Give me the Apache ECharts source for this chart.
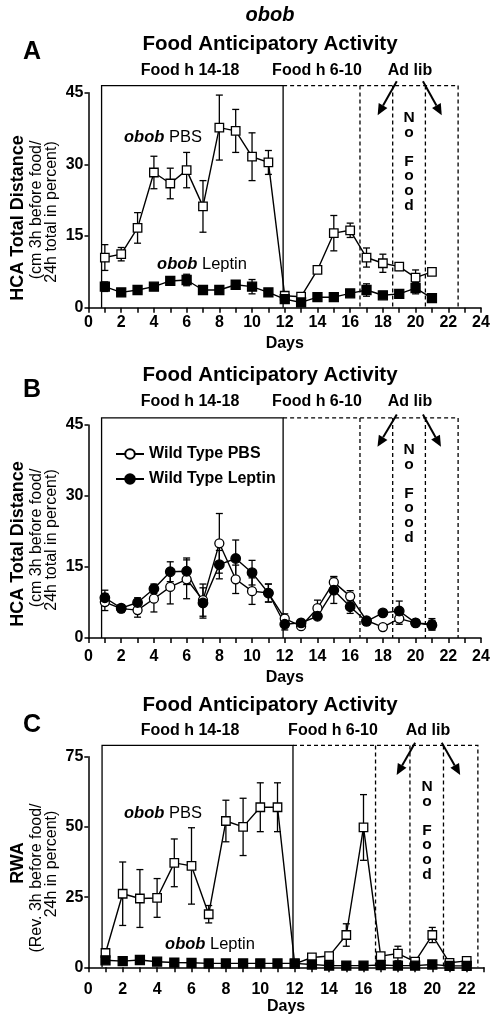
<!DOCTYPE html>
<html><head><meta charset="utf-8">
<script src="https://cdn.jsdelivr.net/npm/echarts@6/dist/echarts.min.js"></script>
<style>html,body{margin:0;padding:0;background:#fff}#c{width:498px;height:1020px}</style>
</head><body><div id="c"></div><script>
const FONT = "'Liberation Sans', Arial, Helvetica, sans-serif";

// ---------- Panel A: obob, HCA total distance ----------
const daysA = [1,2,3,4,5,6,7,8,9,10,11,12,13,14,15,16,17,18,19,20,21];
const obobPbsA    = [10.5,11.2,16.7,28.3,26.0,28.8,21.2,37.7,37.0,31.6,30.4,2.5,2.3,7.9,15.6,16.2,10.5,9.3,8.6,6.3,7.5];
const obobPbsAErr = [2.7,1.4,3.2,3.4,3.2,3.7,5.4,6.8,4.5,5.0,2.5,0.5,0.5,0.6,3.7,1.5,2.0,1.9,0.8,1.6,0.5];
const obobLepA    = [4.4,3.2,3.7,4.4,5.6,5.8,3.7,3.7,4.8,4.4,3.2,1.8,1.1,2.2,2.2,3.0,3.7,2.6,2.9,4.1,2.0];
const obobLepAErr = [1.0,0.6,0.5,0.5,0.8,1.2,0.5,0.5,0.5,1.5,0.5,0.8,0.4,0.4,0.4,0.6,1.3,0.5,0.5,1.2,0.4];

// ---------- Panel B: wild type, HCA total distance ----------
const daysB = [1,2,3,4,5,6,7,8,9,10,11,12,13,14,15,16,17,18,19,20,21];
const wtPbsB    = [7.6,6.2,5.9,8.3,10.8,12.4,8.0,20.0,12.4,9.9,9.5,4.1,2.5,6.3,11.8,8.8,3.7,2.3,4.1,3.2,2.9];
const wtPbsBErr = [1.8,0.8,1.5,2.8,3.6,4.1,3.4,6.3,3.0,2.8,1.9,1.0,0.5,1.7,1.2,1.2,0.6,0.5,1.2,0.6,1.2];
const wtLepB    = [8.5,6.3,7.5,10.4,14.0,14.1,7.4,15.5,16.8,13.8,9.5,2.9,3.2,4.6,10.1,6.6,3.5,5.3,5.7,3.2,2.7];
const wtLepBErr = [1.6,0.6,1.0,1.0,2.1,2.8,3.2,3.0,3.9,2.6,1.9,1.2,0.5,0.5,2.8,1.4,0.8,0.5,2.1,0.6,1.0];

// ---------- Panel C: obob, RWA ----------
const daysC = [1,2,3,4,5,6,7,8,9,10,11,12,13,14,15,16,17,18,19,20,21,22];
const obobPbsC    = [5.1,26.2,24.5,24.7,37.2,36.1,18.9,52.1,50.0,57.0,57.0,1.2,3.5,4.0,11.5,49.8,4.0,4.9,2.0,11.5,1.6,2.3];
const obobPbsCErr = [1.0,11.3,10.3,6.9,8.5,13.6,3.1,7.4,10.2,8.7,8.7,0.5,1.0,1.0,4.0,11.7,1.0,2.6,0.5,2.7,0.5,0.5];
const obobLepC    = [2.5,2.2,2.6,2.0,1.7,1.6,1.4,1.4,1.4,1.4,1.4,1.4,1.0,0.6,0.6,0.6,0.8,0.6,0.6,1.0,0.5,0.5];
const obobLepCErr = [0.4,0.3,0.3,0.3,0.3,0.3,0.3,0.3,0.3,0.3,0.3,0.3,0.3,0.3,0.3,0.3,0.3,0.3,0.3,0.3,0.3,0.3];

// ---------- ticks ----------
const xTickLabelsAB = [0,2,4,6,8,10,12,14,16,18,20,22,24];
const xTickLabelsC  = [0,2,4,6,8,10,12,14,16,18,20,22];
const yTicksAB = [0,15,30,45];
const yTicksC  = [0,25,50,75];

// ---------- feeding phases (days) ----------
const phaseEdgesAB = [0.8, 11.9, 16.6, 18.6, 20.6, 22.6];
const phaseTopAB = 46.5;
const phaseEdgesC = [0.8, 11.9, 16.7, 18.7, 20.65, 22.65];
const phaseTopC = 79;
const adLibArrowsA = [[18.85,47.4,17.68,40.3],[20.45,47.4,21.6,40.3]];
const adLibArrowsB = [[18.85,47.2,17.67,40.4],[20.45,47.2,21.55,40.4]];
const adLibArrowsC = [[19.0,80.0,17.93,68.5],[20.55,80.0,21.62,68.5]];

const chart = echarts.init(document.getElementById('c'), null, {renderer:'canvas'});

const grids = [
  {left:88.5, top:92.7, width:392.5, height:215},
  {left:88.5, top:425, width:392.5, height:213},
  {left:88.3, top:756.7, width:395.6, height:210.6}
];

function xAxis(gi, max, labels, margin, nameGap){
  return {type:'value', gridIndex:gi, min:0, max:max, interval:1,
    axisLine:{show:true, onZero:false, lineStyle:{color:'#000', width:1.5}},
    axisTick:{show:true, length:5, lineStyle:{color:'#000', width:1.5}},
    axisLabel:{margin:margin, color:'#000', fontFamily:FONT, fontSize:16, fontWeight:'bold',
      showMinLabel:true, showMaxLabel:true, hideOverlap:false,
      formatter:v=>labels.includes(v)?String(v):''},
    splitLine:{show:false},
    name:'Days', nameLocation:'middle', nameGap:nameGap,
    nameTextStyle:{color:'#000', fontFamily:FONT, fontSize:16, fontWeight:'bold'}};
}
function yAxis(gi, ticks){
  return {type:'value', gridIndex:gi, min:ticks[0], max:ticks[ticks.length-1], interval:ticks[1]-ticks[0],
    axisLine:{show:true, onZero:false, lineStyle:{color:'#000', width:1.5}},
    axisTick:{show:true, length:4, lineStyle:{color:'#000', width:1.5}},
    axisLabel:{margin:5, color:'#000', fontFamily:FONT, fontSize:16, fontWeight:'bold'},
    splitLine:{show:false}};
}

function lineSeries(name, gi, days, vals, symbol, filled, size){
  return {type:'line', name:name, xAxisIndex:gi, yAxisIndex:gi,
    data:days.map((d,i)=>[d, vals[i]]),
    symbol:symbol, symbolSize:size, showAllSymbol:true,
    lineStyle:{color:'#000', width:1.4},
    itemStyle:{color: filled ? '#000' : '#fff', borderColor:'#000', borderWidth:1.3},
    emphasis:{disabled:true}, animation:false, clip:false};
}
function errSeries(gi, days, vals, errs){
  return {type:'custom', xAxisIndex:gi, yAxisIndex:gi, silent:true, animation:false, clip:false,
    data:days.map((d,i)=>[d, vals[i]-errs[i], vals[i]+errs[i]]),
    encode:{x:0, y:[1,2]},
    renderItem:function(params, api){
      const x = api.value(0);
      const lo = api.coord([x, api.value(1)]);
      const hi = api.coord([x, api.value(2)]);
      const w = 3.5;
      const st = {stroke:'#000', lineWidth:1.3};
      return {type:'group', children:[
        {type:'line', shape:{x1:lo[0], y1:lo[1], x2:hi[0], y2:hi[1]}, style:st},
        {type:'line', shape:{x1:hi[0]-w, y1:hi[1], x2:hi[0]+w, y2:hi[1]}, style:st},
        {type:'line', shape:{x1:lo[0]-w, y1:lo[1], x2:lo[0]+w, y2:lo[1]}, style:st}
      ]};
    }};
}
function phaseSeries(gi, edges, top, arrows){
  return {type:'custom', xAxisIndex:gi, yAxisIndex:gi, silent:true, animation:false, clip:false,
    data:[[0,0]], encode:{x:0, y:1}, z:1,
    renderItem:function(params, api){
      const P = (x,y)=>api.coord([x,y]);
      const solid = {stroke:'#000', lineWidth:1.3, fill:null};
      const dash = {stroke:'#000', lineWidth:1.3, lineDash:[4,3], fill:null};
      const ch = [];
      const a=P(edges[0],0), b=P(edges[0],top), c=P(edges[1],top), d=P(edges[1],0);
      ch.push({type:'polyline', shape:{points:[a,b,c,d]}, style:solid});
      const f=P(edges[5],top), g=P(edges[5],0);
      ch.push({type:'polyline', shape:{points:[c,f,g]}, style:dash});
      for (let k=2;k<=4;k++){
        const p1=P(edges[k],top), p2=P(edges[k],0);
        ch.push({type:'line', shape:{x1:p1[0],y1:p1[1],x2:p2[0],y2:p2[1]}, style:dash});
      }
      arrows.forEach(ar=>{
        const s=P(ar[0],ar[1]), t=P(ar[2],ar[3]);
        const dx=t[0]-s[0], dy=t[1]-s[1], L=Math.hypot(dx,dy);
        const ux=dx/L, uy=dy/L, hl=11, hw=5;
        const bx=t[0]-ux*hl, by=t[1]-uy*hl;
        ch.push({type:'line', shape:{x1:s[0],y1:s[1],x2:bx,y2:by}, style:{stroke:'#000', lineWidth:2}});
        ch.push({type:'polygon', shape:{points:[[t[0],t[1]],[bx-uy*hw,by+ux*hw],[bx+uy*hw,by-ux*hw]]}, style:{fill:'#000'}});
      });
      return {type:'group', children:ch};
    }};
}

function txt(x, y, text, font, extra){
  return Object.assign({type:'text', x:x, y:y, silent:true,
    style:{text:text, font:font, fill:'#000', align:'center', verticalAlign:'middle'}}, extra||{});
}
const F = (s, w, st) => (st||'') + ' ' + (w||'normal') + ' ' + s + 'px ' + FONT;
const obobRich = (label, x, y) => ({type:'text', x:x, y:y, silent:true,
  style:{text:'{i|obob} ' + label, font:F(16.5), fill:'#000', align:'center', verticalAlign:'middle',
    rich:{i:{font:F(16.5,'bold','italic'), fill:'#000'}}}});
const vert = (x, y, text, font) => txt(x, y, text, font, {rotation:Math.PI/2});
const noFood = (x, y) => ({type:'text', x:x, y:y, silent:true,
  style:{text:'N\no\n\nF\no\no\nd', font:F(15.5,'bold'), fill:'#000', align:'center', verticalAlign:'top', lineHeight:14.6}});

const graphics = [
  txt(270, 15, 'obob', F(20,'bold','italic')),
  // A
  txt(32, 52, 'A', F(25,'bold')),
  txt(270, 44, 'Food Anticipatory Activity', F(20.5,'bold')),
  txt(190, 71, 'Food h 14-18', F(16,'bold')),
  txt(317, 71, 'Food h 6-10', F(16,'bold')),
  txt(410, 71, 'Ad lib', F(16,'bold')),
  noFood(409, 110.5),
  obobRich('PBS', 163, 137),
  obobRich('Leptin', 202, 264),
  vert(18, 218, 'HCA Total Distance', F(18,'bold')),
  vert(37, 210, '(cm 3h before food/', F(16)),
  vert(52, 212, '24h total in percent)', F(16)),
  // B
  txt(32, 390, 'B', F(25,'bold')),
  txt(270, 375, 'Food Anticipatory Activity', F(20.5,'bold')),
  txt(190, 402, 'Food h 14-18', F(16,'bold')),
  txt(317, 402, 'Food h 6-10', F(16,'bold')),
  txt(410, 402, 'Ad lib', F(16,'bold')),
  noFood(409, 442.5),
  vert(18, 544, 'HCA Total Distance', F(18,'bold')),
  vert(37, 538, '(cm 3h before food/', F(16)),
  vert(52, 540, '24h total in percent)', F(16)),
  // C
  txt(32, 725, 'C', F(25,'bold')),
  txt(270, 705, 'Food Anticipatory Activity', F(20.5,'bold')),
  txt(190, 731, 'Food h 14-18', F(16,'bold')),
  txt(333, 731, 'Food h 6-10', F(16,'bold')),
  txt(428, 731, 'Ad lib', F(16,'bold')),
  noFood(427, 779.4),
  obobRich('PBS', 163, 813),
  obobRich('Leptin', 210, 944),
  vert(18, 863, 'RWA', F(18,'bold')),
  vert(37, 878, '(Rev. 3h before food/', F(16)),
  vert(52, 864, '24h in percent)', F(16))
];

const option = {
  animation:false,
  backgroundColor:'#fff',
  grid:grids,
  xAxis:[xAxis(0,24,xTickLabelsAB,7,28), xAxis(1,24,xTickLabelsAB,11,32), xAxis(2,23,xTickLabelsC,14,31)],
  yAxis:[yAxis(0,yTicksAB), yAxis(1,yTicksAB), yAxis(2,yTicksC)],
  legend:{data:['Wild Type PBS','Wild Type Leptin'], orient:'vertical', left:110, top:441,
    itemWidth:28, itemHeight:12, itemGap:9, selectedMode:false,
    textStyle:{color:'#000', fontFamily:FONT, fontSize:16, fontWeight:'bold'}},
  graphic:graphics,
  series:[
    phaseSeries(0, phaseEdgesAB, phaseTopAB, adLibArrowsA),
    phaseSeries(1, phaseEdgesAB, phaseTopAB, adLibArrowsB),
    phaseSeries(2, phaseEdgesC, phaseTopC, adLibArrowsC),
    errSeries(0, daysA, obobPbsA, obobPbsAErr),
    errSeries(0, daysA, obobLepA, obobLepAErr),
    errSeries(1, daysB, wtPbsB, wtPbsBErr),
    errSeries(1, daysB, wtLepB, wtLepBErr),
    errSeries(2, daysC, obobPbsC, obobPbsCErr),
    errSeries(2, daysC, obobLepC, obobLepCErr),
    lineSeries('obob PBS', 0, daysA, obobPbsA, 'rect', false, 8.5),
    lineSeries('obob Leptin', 0, daysA, obobLepA, 'rect', true, 9),
    lineSeries('Wild Type PBS', 1, daysB, wtPbsB, 'circle', false, 9),
    lineSeries('Wild Type Leptin', 1, daysB, wtLepB, 'circle', true, 9.5),
    lineSeries('obob PBS C', 2, daysC, obobPbsC, 'rect', false, 8.5),
    lineSeries('obob Leptin C', 2, daysC, obobLepC, 'rect', true, 9)
  ]
};
chart.setOption(option);
</script></body></html>
